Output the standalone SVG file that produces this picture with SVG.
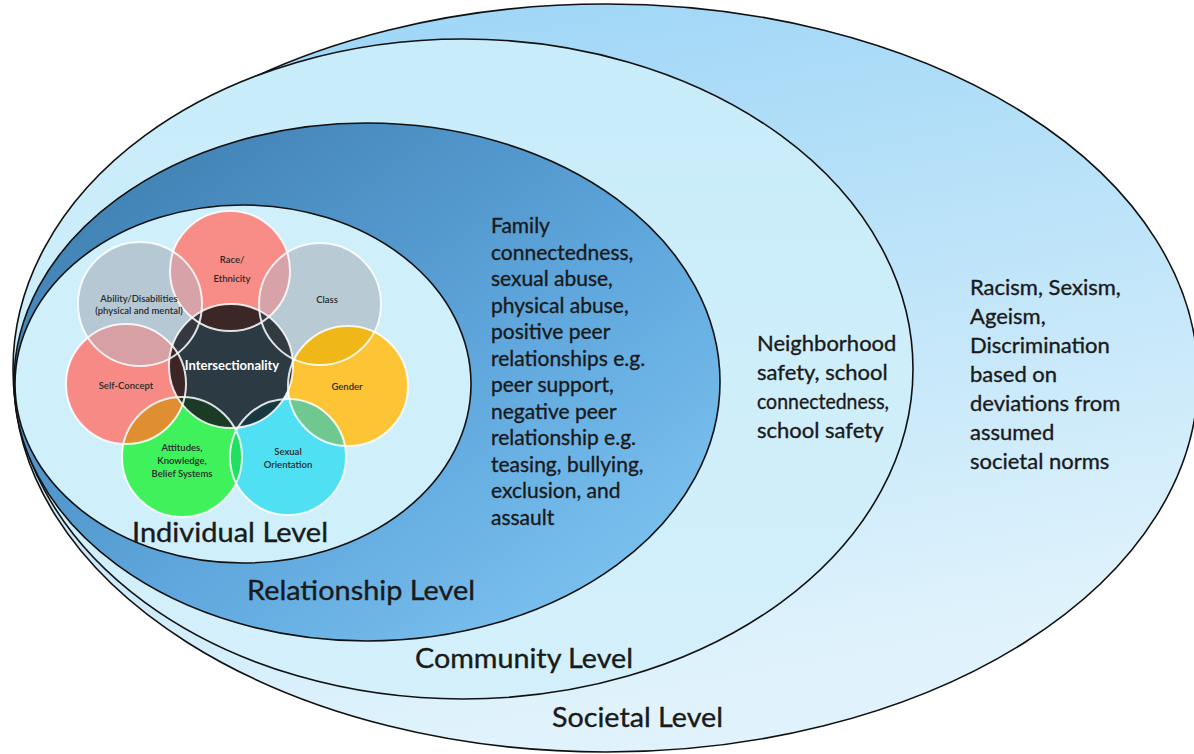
<svg xmlns="http://www.w3.org/2000/svg" width="1194" height="754" viewBox="0 0 1194 754">
<defs>
<linearGradient id="gSoc" x1="0" y1="0" x2="0.3" y2="1">
<stop offset="0" stop-color="#98d3f6"/><stop offset="1" stop-color="#e0f3fc"/>
</linearGradient>
<linearGradient id="gCom" x1="0" y1="0" x2="0" y2="1">
<stop offset="0" stop-color="#c8ecfa"/><stop offset="1" stop-color="#d4f0fb"/>
</linearGradient>
<linearGradient id="gRel" x1="0" y1="0" x2="1" y2="1">
<stop offset="0" stop-color="#3a78aa"/><stop offset="0.55" stop-color="#5ea6dc"/><stop offset="1" stop-color="#86cbf6"/>
</linearGradient>
<clipPath id="cInt"><circle cx="231" cy="366" r="62"/></clipPath>
<clipPath id="cRace"><circle cx="230" cy="271" r="60"/></clipPath>
<clipPath id="cClass"><circle cx="320" cy="304" r="61"/></clipPath>
<clipPath id="cGender"><circle cx="348" cy="386" r="60"/></clipPath>
<clipPath id="cSex"><circle cx="288" cy="457" r="58"/></clipPath>
<clipPath id="cAtt"><circle cx="182" cy="457" r="60"/></clipPath>
<clipPath id="cSelf"><circle cx="126" cy="384" r="60"/></clipPath>
<clipPath id="cAbil"><circle cx="140" cy="304" r="62"/></clipPath>
</defs>
<style>
.lvl{stroke:#111;stroke-width:1.6}
.t{font-family:Lato,"Open Sans","Liberation Sans",sans-serif;fill:#1a1a1a;stroke:#1a1a1a;stroke-width:0.35}
.big{font-size:27px}
.body{font-size:21px}
.body2{font-size:22px}
.pt{font-family:Lato,"Liberation Sans",sans-serif;font-size:9.5px;fill:#2a2a2a;text-anchor:middle;font-weight:600}
.ring{fill:none;stroke:#ffffff;stroke-width:2;stroke-opacity:0.85}
</style>
<rect width="1194" height="754" fill="#ffffff"/>

<g id="societal">
<ellipse class="lvl" cx="606" cy="378" rx="592" ry="374" fill="url(#gSoc)"/>
</g>
<g id="community">
<ellipse class="lvl" cx="463" cy="369" rx="450" ry="330" fill="url(#gCom)"/>
</g>
<g id="relationship">
<ellipse class="lvl" cx="367" cy="382" rx="353" ry="259" fill="url(#gRel)"/>
</g>
<g id="individual">
<ellipse class="lvl" cx="243" cy="384" rx="228" ry="179" fill="#cfeffb"/>
</g>

<g id="connectors"></g>

<g id="petals">
<circle cx="140" cy="304" r="62" fill="#b5c8d3"/>
<circle cx="320" cy="304" r="61" fill="#b8cad4"/>
<circle cx="230" cy="271" r="60" fill="#f88c86"/>
<circle cx="126" cy="384" r="60" fill="#f88a85"/>
<circle cx="348" cy="386" r="60" fill="#fdc435"/>
<circle cx="288" cy="457" r="58" fill="#4fe1f3"/>
<circle cx="182" cy="457" r="60" fill="#3ff25c"/>
<circle cx="140" cy="304" r="62" fill="#d7a2a8" clip-path="url(#cRace)"/>
<circle cx="320" cy="304" r="61" fill="#d7a2a8" clip-path="url(#cRace)"/>
<circle cx="140" cy="304" r="62" fill="#d6a0a5" clip-path="url(#cSelf)"/>
<circle cx="320" cy="304" r="61" fill="#efb718" clip-path="url(#cGender)"/>
<circle cx="288" cy="457" r="58" fill="#6fc88f" clip-path="url(#cGender)"/>
<circle cx="288" cy="457" r="58" fill="#20e062" clip-path="url(#cAtt)"/>
<circle cx="126" cy="384" r="60" fill="#df8f31" clip-path="url(#cAtt)"/>
</g>

<g id="intersectionality">
<circle cx="231" cy="366" r="62" fill="#2c3a44"/>
<circle cx="230" cy="271" r="60" fill="#3b2726" clip-path="url(#cInt)"/>
<circle cx="140" cy="304" r="62" fill="#35393f" clip-path="url(#cInt)"/>
<circle cx="320" cy="304" r="61" fill="#333b42" clip-path="url(#cInt)"/>
<circle cx="126" cy="384" r="60" fill="#3b2525" clip-path="url(#cInt)"/>
<circle cx="348" cy="386" r="60" fill="#3d3822" clip-path="url(#cInt)"/>
<circle cx="288" cy="457" r="58" fill="#183842" clip-path="url(#cInt)"/>
<circle cx="182" cy="457" r="60" fill="#1c3b26" clip-path="url(#cInt)"/>
</g>

<g id="petal-outlines">
<circle class="ring" cx="140" cy="304" r="62"/>
<circle class="ring" cx="320" cy="304" r="61"/>
<circle class="ring" cx="230" cy="271" r="60"/>
<circle class="ring" cx="126" cy="384" r="60"/>
<circle class="ring" cx="348" cy="386" r="60"/>
<circle class="ring" cx="288" cy="457" r="58"/>
<circle class="ring" cx="182" cy="457" r="60"/>
<circle class="ring" cx="231" cy="366" r="62" stroke-width="2.5"/>
</g>

<g id="petal-labels">
<text class="pt" x="232" y="263">Race/</text>
<text class="pt" x="232" y="282">Ethnicity</text>
<text class="pt" x="139" y="302">Ability/Disabilities</text>
<text class="pt" x="139" y="314">(physical and mental)</text>
<text class="pt" x="327" y="303">Class</text>
<text class="pt" x="126" y="389">Self-Concept</text>
<text class="pt" x="347" y="390">Gender</text>
<text class="pt" x="182" y="451">Attitudes,</text>
<text class="pt" x="182" y="464">Knowledge,</text>
<text class="pt" x="182" y="477">Belief Systems</text>
<text class="pt" x="288" y="455">Sexual</text>
<text class="pt" x="288" y="468">Orientation</text>
<text x="232" y="370" font-family="Lato,'Liberation Sans',sans-serif" font-size="13" font-weight="700" fill="#ffffff" text-anchor="middle">Intersectionality</text>
</g>

<g id="level-labels">
<text class="t big" x="132" y="542" textLength="196" lengthAdjust="spacingAndGlyphs">Individual Level</text>
<text class="t big" x="247" y="600" textLength="228" lengthAdjust="spacingAndGlyphs">Relationship Level</text>
<text class="t big" x="415" y="668" textLength="218" lengthAdjust="spacingAndGlyphs">Community Level</text>
<text class="t big" x="552" y="727" textLength="171" lengthAdjust="spacingAndGlyphs">Societal Level</text>
</g>

<g id="relationship-text" class="t body">
<text x="491" y="233">Family</text>
<text x="491" y="259.5">connectedness,</text>
<text x="491" y="286">sexual abuse,</text>
<text x="491" y="312.5">physical abuse,</text>
<text x="491" y="339">positive peer</text>
<text x="491" y="365.5">relationships e.g.</text>
<text x="491" y="392">peer support,</text>
<text x="491" y="418.5">negative peer</text>
<text x="491" y="445">relationship e.g.</text>
<text x="491" y="471.5">teasing, bullying,</text>
<text x="491" y="498">exclusion, and</text>
<text x="491" y="524.5">assault</text>
</g>

<g id="community-text" class="t body2">
<text x="757" y="351">Neighborhood</text>
<text x="757" y="380">safety, school</text>
<text x="757" y="409" textLength="132" lengthAdjust="spacingAndGlyphs">connectedness,</text>
<text x="757" y="438">school safety</text>
</g>

<g id="societal-text" class="t body2">
<text x="970" y="295">Racism, Sexism,</text>
<text x="970" y="324">Ageism,</text>
<text x="970" y="353">Discrimination</text>
<text x="970" y="382">based on</text>
<text x="970" y="411">deviations from</text>
<text x="970" y="440">assumed</text>
<text x="970" y="469">societal norms</text>
</g>
</svg>
